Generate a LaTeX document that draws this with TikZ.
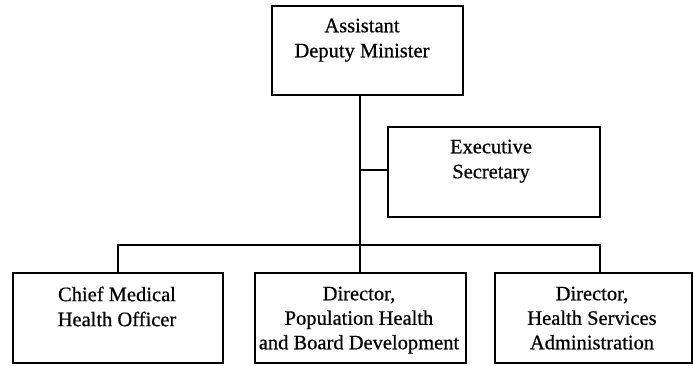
\documentclass[tikz,border=0pt]{standalone}
\usepackage{fontspec}
\setmainfont[FakeBold=0.6]{Liberation Serif}
\begin{document}
\begin{tikzpicture}[x=1pt,y=-1pt,
  box/.style={draw, line width=1.6pt, rectangle, inner sep=0pt},
  txt/.style={align=center, inner sep=0pt, anchor=north, font=\fontsize{20.5}{25}\selectfont},
  conn/.style={line width=1.5pt}]
\useasboundingbox[fill=white] (0,0) rectangle (694,365);
% boxes
\node[box, minimum width=191pt, minimum height=89pt] (adm) at (367.5,50.5) {};
\node[box, minimum width=212pt, minimum height=90pt] (exec) at (494,172) {};
\node[box, minimum width=210pt, minimum height=90pt] (cmho) at (118,318) {};
\node[box, minimum width=211pt, minimum height=90pt] (pop) at (360.5,318) {};
\node[box, minimum width=197pt, minimum height=90pt] (hsa) at (593.5,318) {};
% texts
\node[txt] (tadm) at (362,18.5) {Assistant\\Deputy Minister};
\node[txt] (texec) at (491,139.5) {Executive\\Secretary};
\node[txt] (tcmho) at (117,286.5) {Chief Medical\\Health Officer};
\node[txt, font=\fontsize{20.5}{24.5}\selectfont] (tpop) at (359,286.5) {Director,\\Population Health\\and Board Development};
\node[txt, font=\fontsize{20.5}{24.5}\selectfont] (thsa) at (592,286.5) {Director,\\Health Services\\Administration};
% junctions
\coordinate (j) at (360,245);
\coordinate (e) at (360,170);
\coordinate (r) at (600,245);
% connectors
\draw[conn] (adm.south -| j) -- (j);
\draw[conn] (e) -- (e -| exec.west);
\draw[conn] (cmho.north) |- (r) -- (r |- hsa.north);
\draw[conn] (j) -- (j |- pop.north);
\end{tikzpicture}
\end{document}
